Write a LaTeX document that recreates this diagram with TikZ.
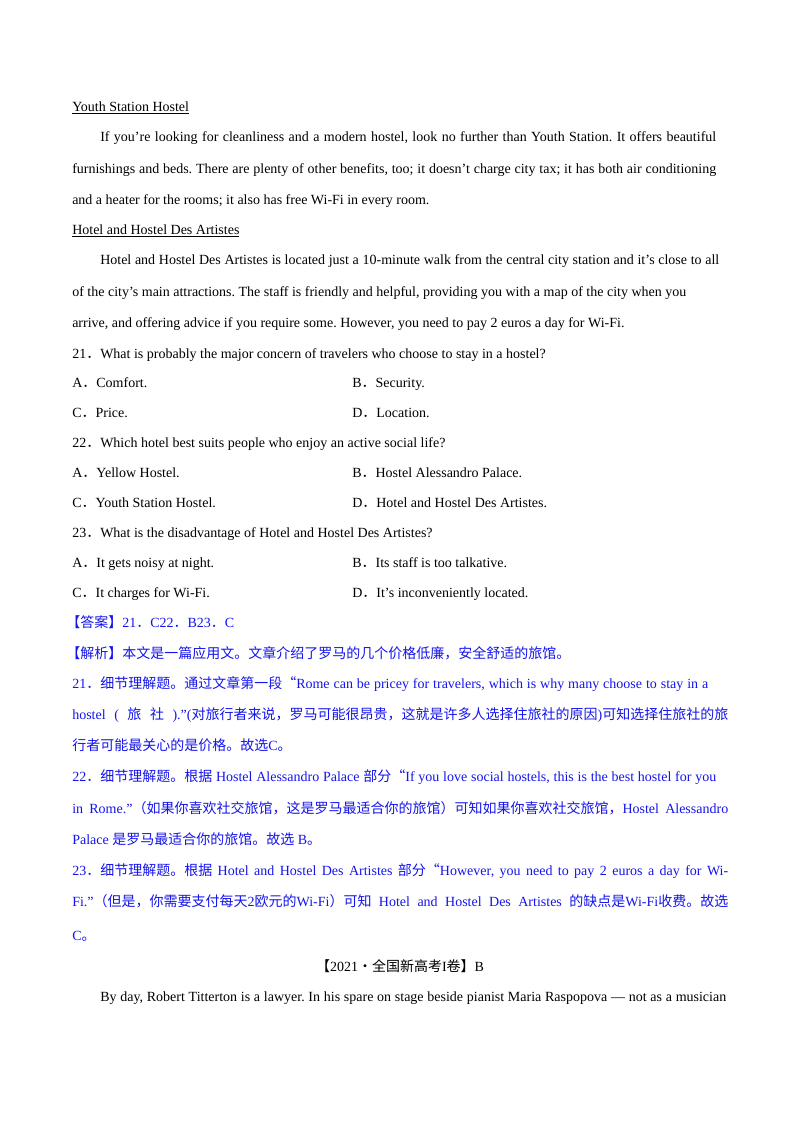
\documentclass[tikz,border=0pt]{standalone}
\usepackage{fontspec}
\setmainfont{Liberation Serif}
\newfontfamily\cjk{Noto Sans CJK SC}
\definecolor{ansblue}{RGB}{20,20,235}
\frenchspacing
\newdimen\pxu \pxu=0.75pt
\newcommand\tline[3]{\node[anchor=base west,inner sep=0] at (#1,#2) {#3};}
\newcommand\jline[4]{\node[anchor=base west,inner sep=0] at (#1,#2) {\hbox to #3\pxu{#4}};}
\newcommand\cz[1]{{\cjk #1}}
\begin{document}
\begin{tikzpicture}[x=0.75pt,y=-0.75pt,font=\fontsize{10.5pt}{12pt}\selectfont\frenchspacing]
\useasboundingbox (0,0) rectangle (800,1132);
\tline{72}{111}{\underline{Youth Station Hostel}}
\jline{100}{141}{616}{If you’re looking for cleanliness and a modern hostel, look no further than Youth Station. It offers beautiful}
\jline{72}{173}{644}{furnishings and beds. There are plenty of other benefits, too; it doesn’t charge city tax; it has both air conditioning}
\tline{72}{204}{and a heater for the rooms; it also has free Wi-Fi in every room.}
\tline{72}{234}{\underline{Hotel and Hostel Des Artistes}}
\jline{100}{264}{619}{Hotel and Hostel Des Artistes is located just a 10-minute walk from the central city station and it’s close to all}
\tline{72}{296}{of the city’s main attractions. The staff is friendly and helpful, providing you with a map of the city when you}
\tline{72}{327}{arrive, and offering advice if you require some. However, you need to pay 2 euros a day for Wi-Fi.}
\tline{72}{358}{21\cz{．}What is probably the major concern of travelers who choose to stay in a hostel?}
\tline{72}{387}{A\cz{．}Comfort.}
\tline{352}{387}{B\cz{．}Security.}
\tline{72}{417}{C\cz{．}Price.}
\tline{352}{417}{D\cz{．}Location.}
\tline{72}{447}{22\cz{．}Which hotel best suits people who enjoy an active social life?}
\tline{72}{477}{A\cz{．}Yellow Hostel.}
\tline{352}{477}{B\cz{．}Hostel Alessandro Palace.}
\tline{72}{507}{C\cz{．}Youth Station Hostel.}
\tline{352}{507}{D\cz{．}Hotel and Hostel Des Artistes.}
\tline{72}{537}{23\cz{．}What is the disadvantage of Hotel and Hostel Des Artistes?}
\tline{72}{567}{A\cz{．}It gets noisy at night.}
\tline{352}{567}{B\cz{．}Its staff is too talkative.}
\tline{72}{597}{C\cz{．}It charges for Wi-Fi.}
\tline{352}{597}{D\cz{．}It’s inconveniently located.}
\begin{scope}[color=ansblue]
\tline{66}{627}{\cz{【答案】}21\cz{．}C22\cz{．}B23\cz{．}C}
\tline{66}{658}{\cz{【解析】本文是一篇应用文。文章介绍了罗马的几个价格低廉，安全舒适的旅馆。}}
\jline{72}{688}{636}{21\cz{．细节理解题。通过文章第一段“}Rome can be pricey for travelers, which is why many choose to stay in a}
\jline{72}{719}{656}{hostel ( \cz{旅} \cz{社} ).”(\cz{对旅行者来说，罗马可能很昂贵，这就是许多人选择住旅社的原因})\cz{可知选择住旅社的旅}}
\tline{72}{750}{\cz{行者可能最关心的是价格。故选}C\cz{。}}
\jline{72}{781}{644}{22\cz{．细节理解题。根据} Hostel Alessandro Palace \cz{部分“}If you love social hostels, this is the best hostel for you}
\jline{72}{813}{656}{in Rome.”\cz{（如果你喜欢社交旅馆，这是罗马最适合你的旅馆）可知如果你喜欢社交旅馆，}Hostel Alessandro}
\tline{72}{844}{Palace \cz{是罗马最适合你的旅馆。故选} B\cz{。}}
\jline{72}{875}{656}{23\cz{．细节理解题。根据} Hotel and Hostel Des Artistes \cz{部分“}However, you need to pay 2 euros a day for Wi-}
\jline{72}{906}{656}{Fi.”\cz{（但是，你需要支付每天}2\cz{欧元的}Wi-Fi\cz{）可知} Hotel and Hostel Des Artistes \cz{的缺点是}Wi-Fi\cz{收费。故选}}
\tline{72}{940}{C\cz{。}}
\end{scope}
\node[anchor=base,inner sep=0] (title) at (400,971) {\cz{【}2021\cz{·全国新高考}I\cz{卷】}B};
\jline{100}{1001}{626}{By day, Robert Titterton is a lawyer. In his spare on stage beside pianist Maria Raspopova — not as a musician}
\end{tikzpicture}
\end{document}
